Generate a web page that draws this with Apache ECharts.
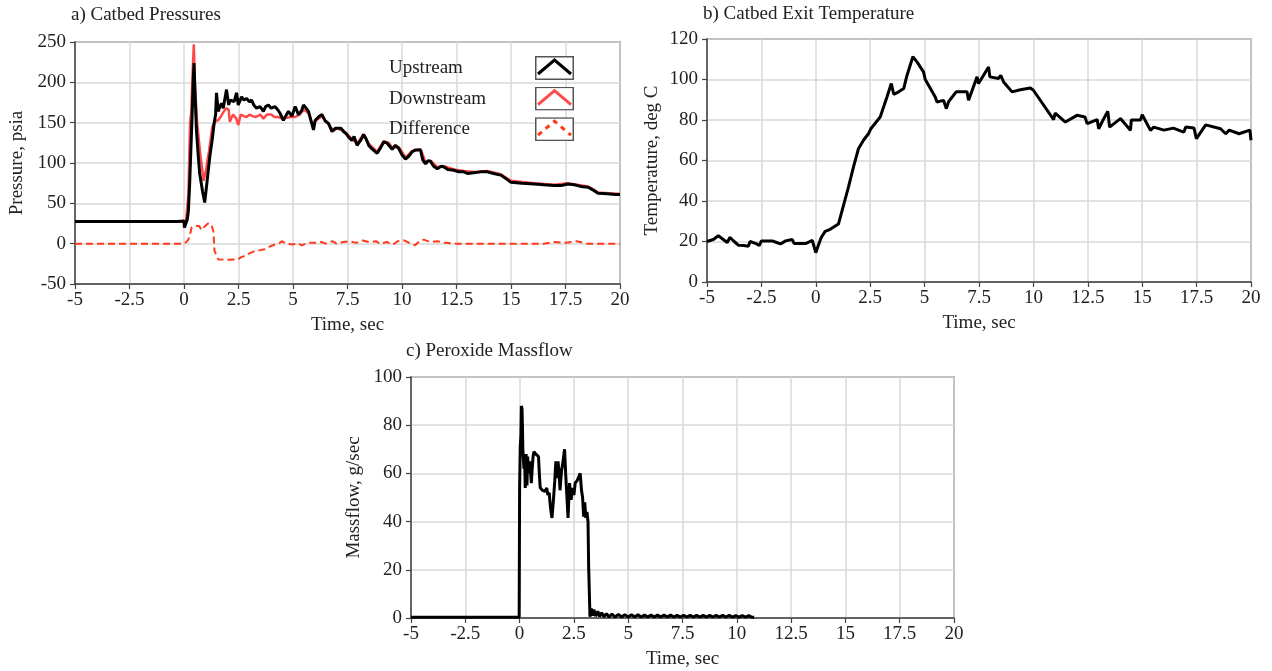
<!DOCTYPE html>
<html>
<head>
<meta charset="utf-8">
<script src="https://cdn.jsdelivr.net/npm/echarts@6/dist/echarts.min.js"></script>
<style>
html,body{margin:0;padding:0;background:#fff;}
#chart{width:1272px;height:671px;}
</style>
</head>
<body>
<div id="chart"></div>
<script>
// ---------- Data ----------
const xTicks = [-5, -2.5, 0, 2.5, 5, 7.5, 10, 12.5, 15, 17.5, 20];
const titles = ['a) Catbed Pressures', 'b) Catbed Exit Temperature', 'c) Peroxide Massflow'];
const seriesNames = ['Upstream', 'Downstream', 'Difference'];

// Panel a: Upstream pressure (time, psia)
const upT = [-5,-0.3,-0.25,0,0.02,0.1,0.15,0.2,0.26,0.32,0.37,0.42,0.46,0.5,0.57,0.65,0.72,0.85,0.95,1.05,1.18,1.3,1.38,1.45,1.49,1.57,1.65,1.72,1.8,1.95,2.05,2.12,2.2,2.3,2.41,2.49,2.64,2.75,2.87,3.0,3.1,3.2,3.33,3.49,3.64,3.75,3.87,4.0,4.17,4.3,4.4,4.56,4.7,4.79,4.95,5.1,5.25,5.4,5.48,5.6,5.71,5.85,5.94,6.02,6.2,6.33,6.48,6.63,6.79,6.94,7.02,7.2,7.32,7.45,7.55,7.7,7.8,7.94,8.1,8.24,8.35,8.47,8.6,8.86,9.0,9.16,9.3,9.39,9.55,9.7,9.85,10.0,10.16,10.3,10.47,10.6,10.85,10.95,11.08,11.2,11.31,11.45,11.62,11.8,11.93,12.1,12.38,12.6,12.84,13.0,13.3,13.6,13.92,14.2,14.53,14.8,15.0,15.5,16.07,16.5,16.99,17.3,17.6,17.9,18.2,18.53,18.8,18.99,19.4,19.8,20];
const upV = [27.5,27.5,29,28,20,22,30,40,74,120,157,200,224,190,141,110,87,65,51,75,107,130,149,160,187,164,170,174,168,191,172,178,180,176,187,172,182,178,180,176,178,172,168,170,164,170,172,168,170,166,162,153,160,164,158,170,160,165,172,168,164,150,141,153,158,160,152,149,139,143,141,143,139,136,132,128,133,122,128,135,130,122,118,112,118,126,125,124,117,122,118,110,105,108,114,116,116,104,99,103,102,96,93,96,95,92,91,89,89,87,88,89,89,87,85,80,76,75,74,73,72,72,74,73,71,70,66,62.5,62,61,61];

// Panel a: Downstream pressure
const dnT = [-5,-0.3,0,0.1,0.2,0.28,0.33,0.4,0.45,0.5,0.6,0.75,0.9,1.0,1.15,1.3,1.45,1.57,1.7,1.85,1.95,2.05,2.1,2.25,2.4,2.49,2.6,2.75,2.87,3.0,3.15,3.3,3.5,3.64,3.8,4.0,4.15,4.33,4.5,4.7,4.9,5.1,5.3,5.5,5.71,5.9,6.02,6.33,6.63,6.85,7.02,7.32,7.55,7.94,8.24,8.47,8.86,9.16,9.39,9.55,9.85,10.16,10.47,10.85,11.08,11.31,11.62,11.93,12.38,12.84,13.3,13.92,14.53,15.0,16.07,16.99,17.6,18.53,18.99,19.8,20];
const dnV = [27.5,27.5,27,30,60,150,162,215,247,200,150,110,78,90,115,145,152,153,158,165,168,166,151,160,155,147,160,158,157,160,158,157,160,155,160,160,157,157,155,156,157,157,160,166,162,147,152,158,148,140,143,140,134,124,136,124,114,127,125,119,120,107,115,117,101,103,95,96,92,90,89,90,86,78,75,73,75,71,63.5,62,62];

// Panel a: Difference
const dfT = [-5,-0.2,0,0.1,0.2,0.3,0.35,0.5,0.7,0.8,0.9,1.1,1.25,1.35,1.4,1.5,1.57,2.0,2.49,2.6,2.8,3.0,3.26,3.5,3.7,3.9,4.17,4.35,4.48,4.7,5.0,5.2,5.4,5.7,6.02,6.3,6.5,6.8,7.0,7.3,7.6,7.9,8.2,8.5,8.8,9.0,9.3,9.6,9.8,10.1,10.4,10.6,10.8,11.0,11.3,11.6,12.0,12.5,15,16.5,17,17.5,18,18.5,20];
const dfV = [0,0,0.5,2,5,14,20,22,22,17,20,25,24,15,-9,-15,-19.5,-20,-19.5,-17,-15,-12,-9,-8,-7,-4,-1,0,3,0,-1,1,-2,1,1,2,0,3,0,2,3,1,4,2,3,0,2,-1,3,4,0,-2,3,5,2,3,1,0,0,0,2,1,3,0,0];

// Panel b: Catbed exit temperature (time, deg C)
const tmT = [-5,-4.71,-4.48,-4.25,-4.07,-3.95,-3.75,-3.56,-3.3,-3.1,-3.02,-2.71,-2.6,-2.5,-2.0,-1.8,-1.62,-1.39,-1.08,-1.0,-0.47,-0.16,-0.07,0,0.08,0.25,0.43,0.66,1.04,1.27,1.5,1.73,1.96,2.19,2.42,2.53,2.96,3.27,3.47,3.58,3.81,4.04,4.19,4.46,4.65,4.95,5.03,5.49,5.57,5.87,6.0,6.1,6.45,6.95,7.02,7.41,7.48,7.94,8.0,8.4,8.5,8.63,9.02,9.4,9.86,10.0,10.93,11.0,11.47,12.0,12.37,12.47,12.93,13.0,13.2,13.42,13.5,14.0,14.46,14.5,14.92,15.0,15.38,15.53,16.0,16.43,16.91,17.0,17.38,17.49,17.92,18.6,18.84,19.0,19.45,19.95,20];
const tmV = [20,21,22.8,21,19.5,22,20,18.2,18,17.6,20,18.8,18,20.3,20.3,19.5,18.8,20.3,21,19,19,20.5,20,14.5,17,22,25,26,28.6,37.7,46.8,56.7,65.8,70,73.2,75.7,81.5,91.4,98,92.7,93.9,95.5,102,111.2,108.7,103.8,100,91.4,88.9,89.7,85.6,89,93.9,93.9,89.7,101.3,98,106.2,101.3,100.5,102,98.8,93.9,94.9,95.8,94.7,80.2,83.4,79,82.3,81.5,78.2,80.2,75.7,80,84.3,76.5,80.7,74.9,80,80,82.6,74.9,76.5,75,76,74,76.5,76,70.8,77.6,75.7,73.2,75,73.2,75,70];

// Panel c: Peroxide massflow (time, g/sec)
const mfT = [-5,-0.02,0,0.03,0.06,0.08,0.11,0.13,0.15,0.2,0.23,0.26,0.3,0.34,0.37,0.42,0.47,0.54,0.58,0.62,0.66,0.75,0.87,0.92,0.95,1.05,1.18,1.25,1.3,1.36,1.41,1.45,1.49,1.55,1.62,1.67,1.72,1.77,1.82,1.86,1.93,2.0,2.07,2.12,2.18,2.23,2.3,2.37,2.44,2.5,2.56,2.65,2.79,2.85,2.9,2.95,3.0,3.05,3.1,3.15,3.18,3.24,3.3,3.35,3.42,3.5,3.6,3.68,3.78,3.88,4.0,4.12,4.25,4.4,4.55,4.7,4.85,5.0,5.15,5.3,5.45,5.6,5.75,5.9,6.05,6.2,6.35,6.5,6.65,6.8,6.95,7.1,7.25,7.4,7.55,7.7,7.85,8.0,8.15,8.3,8.45,8.6,8.75,8.9,9.05,9.2,9.35,9.5,9.65,9.8,9.95,10.1,10.25,10.4,10.55,10.7,10.8,20];
const mfV = [0.3,0.3,54,71,76,88,87,80,70,62,68,54,68,55,67,60,65,56,62,67,69,68,67,58,54,53,52.5,54,51,52,47,44,41.5,48,57,65,58,65,60,53,61,65,70,60,50,41.5,56,49,54,51,56,57,60,53,50,42,48,41.5,44,40,21,0.5,4,1,3.5,0.8,2.8,0.6,2.2,0.5,1.8,0.4,1.6,0.4,1.5,0.4,1.4,0.4,1.3,0.4,1.3,0.4,1.2,0.4,1.2,0.4,1.2,0.4,1.2,0.4,1.2,0.4,1.1,0.4,1.1,0.4,1.1,0.4,1.1,0.4,1.1,0.4,1.1,0.4,1.1,0.4,1.1,0.4,1.1,0.4,1.0,0.4,1.0,0.4,1.0,0.3,0.3];

// ---------- Helpers ----------
const pair = (t, v) => t.map((x, i) => [x, v[i]]);
const FONT = 'Liberation Serif';
const FS = 19;
const TXT = '#222';

function iconSvg(stroke, dashed) {
  const svg = '<svg xmlns="http://www.w3.org/2000/svg" width="39" height="24" viewBox="0 0 39 24">' +
    '<rect x="0.75" y="0.75" width="37.5" height="22.5" fill="#fff" stroke="#555" stroke-width="1.5"/>' +
    '<polyline points="3,18 19.5,4 36,18" fill="none" stroke="' + stroke + '" stroke-width="3"' +
    (dashed ? ' stroke-dasharray="5,5"' : '') + '/></svg>';
  return 'image://data:image/svg+xml;charset=utf-8,' + encodeURIComponent(svg);
}

function xAxisCfg(gi) {
  return {
    type: 'value', gridIndex: gi, min: -5, max: 20, interval: 2.5,
    name: 'Time, sec', nameLocation: 'middle', nameGap: 32,
    nameTextStyle: { fontFamily: FONT, fontSize: FS, color: TXT },
    axisLine: { show: true, onZero: false, lineStyle: { color: '#444', width: 1.5 } },
    axisTick: { show: true, inside: false, length: 5, lineStyle: { color: '#444', width: 1.2 } },
    axisLabel: { fontFamily: FONT, fontSize: FS, color: TXT, margin: 7 },
    splitLine: { show: true, lineStyle: { color: '#d9d9d9', width: 1.5 } }
  };
}
function yAxisCfg(gi, name, min, max, interval, gap) {
  return {
    type: 'value', gridIndex: gi, min: min, max: max, interval: interval,
    name: name, nameLocation: 'middle', nameGap: gap, nameRotate: 90,
    nameTextStyle: { fontFamily: FONT, fontSize: FS, color: TXT },
    axisLine: { show: true, onZero: false, lineStyle: { color: '#444', width: 1.5 } },
    axisTick: { show: true, inside: false, length: 5, lineStyle: { color: '#444', width: 1.2 } },
    axisLabel: { fontFamily: FONT, fontSize: FS, color: TXT, margin: 9 },
    splitLine: { show: true, lineStyle: { color: '#d9d9d9', width: 1.5 } }
  };
}

const chart = echarts.init(document.getElementById('chart'), null, { renderer: 'canvas' });

const option = {
  animation: false,
  backgroundColor: '#fff',
  title: [
    { text: titles[0], left: 71, top: 6, padding: 0, textStyle: { fontFamily: FONT, fontSize: FS, fontWeight: 'normal', color: TXT } },
    { text: titles[1], left: 703, top: 5, padding: 0, textStyle: { fontFamily: FONT, fontSize: FS, fontWeight: 'normal', color: TXT } },
    { text: titles[2], left: 406, top: 342, padding: 0, textStyle: { fontFamily: FONT, fontSize: FS, fontWeight: 'normal', color: TXT } }
  ],
  legend: {
    orient: 'vertical', left: 389, top: 56, padding: 0,
    itemWidth: 39, itemHeight: 24, itemGap: 6.6, align: 'right',
    selectedMode: false,
    formatter: function (n) { return '{a|' + n + '}'; },
    textStyle: { fontFamily: FONT, fontSize: FS, color: TXT,
      rich: { a: { width: 141, align: 'left', fontFamily: FONT, fontSize: FS, color: TXT } } },
    data: [
      { name: seriesNames[0], icon: iconSvg('#000', false) },
      { name: seriesNames[1], icon: iconSvg('#ff4848', false) },
      { name: seriesNames[2], icon: iconSvg('#ff3a1c', true) }
    ]
  },
  grid: [
    { left: 75, right: 652, top: 42, bottom: 387, show: true, borderColor: '#555', borderWidth: 1.5, backgroundColor: 'transparent' },
    { left: 707, right: 21, top: 39, bottom: 389, show: true, borderColor: '#555', borderWidth: 1.5, backgroundColor: 'transparent' },
    { left: 411, right: 318, top: 377, bottom: 53, show: true, borderColor: '#555', borderWidth: 1.5, backgroundColor: 'transparent' }
  ],
  xAxis: [xAxisCfg(0), xAxisCfg(1), xAxisCfg(2)],
  yAxis: [
    yAxisCfg(0, 'Pressure, psia', -50, 250, 50, 48),
    yAxisCfg(1, 'Temperature, deg C', 0, 120, 20, 45),
    yAxisCfg(2, 'Massflow, g/sec', 0, 100, 20, 47)
  ],
  series: [
    { name: seriesNames[2], type: 'line', xAxisIndex: 0, yAxisIndex: 0, data: pair(dfT, dfV), showSymbol: false, symbol: 'none',
      lineStyle: { color: '#ff3a1c', width: 2, type: [7, 4] }, itemStyle: { color: '#ff3a1c' }, z: 2 },
    { name: seriesNames[1], type: 'line', xAxisIndex: 0, yAxisIndex: 0, data: pair(dnT, dnV), showSymbol: false, symbol: 'none',
      lineStyle: { color: '#ff4848', width: 2.5 }, itemStyle: { color: '#ff4848' }, z: 3 },
    { name: seriesNames[0], type: 'line', xAxisIndex: 0, yAxisIndex: 0, data: pair(upT, upV), showSymbol: false, symbol: 'none',
      lineStyle: { color: '#000', width: 3 }, itemStyle: { color: '#000' }, z: 4 },
    { name: 'Temperature', type: 'line', xAxisIndex: 1, yAxisIndex: 1, data: pair(tmT, tmV), showSymbol: false, symbol: 'none',
      lineStyle: { color: '#000', width: 3 }, itemStyle: { color: '#000' } },
    { name: 'Massflow', type: 'line', xAxisIndex: 2, yAxisIndex: 2, data: pair(mfT, mfV), showSymbol: false, symbol: 'none',
      lineStyle: { color: '#000', width: 3 }, itemStyle: { color: '#000' } }
  ]
};
chart.setOption(option);
</script>
</body>
</html>
